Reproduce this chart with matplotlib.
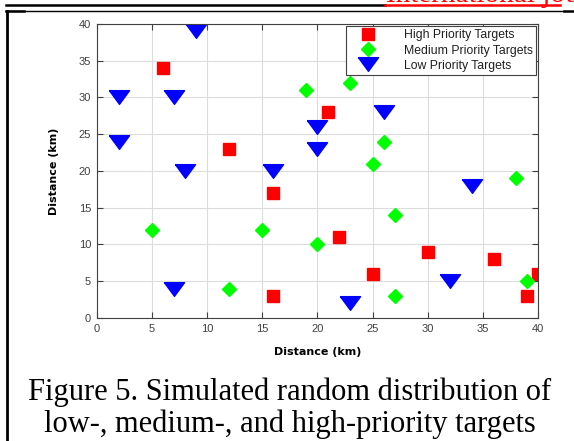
import matplotlib.pyplot as plt
from matplotlib.path import Path
from matplotlib.lines import Line2D

# target positions (km)
high_x = [6, 12, 16, 16, 21, 22, 25, 30, 36, 39, 40]
high_y = [34, 23, 17, 3, 28, 11, 6, 9, 8, 3, 6]

medium_x = [5, 12, 15, 19, 20, 23, 25, 26, 27, 27, 38, 39]
medium_y = [12, 4, 12, 31, 10, 32, 21, 24, 14, 3, 19, 5]

low_x = [2, 2, 7, 8, 9, 7, 16, 20, 20, 23, 26, 32, 34]
low_y = [30, 24, 30, 20, 39, 4, 20, 26, 23, 2, 28, 5, 18]

ticks = [0, 5, 10, 15, 20, 25, 30, 35, 40]

# flat, MATLAB-like downward triangle
tri = Path([(-1, 0.68), (1, 0.68), (0, -0.68), (-1, 0.68)])

fig = plt.figure(figsize=(5.74, 4.41), dpi=100)

# page decorations around the figure
fig.text(0.672, 0.9955, "International journal", color="red", fontsize=21,
         family="Liberation Serif", va="baseline", ha="left")
fig.add_artist(Line2D([0.010, 0.671], [0.988, 0.988], color="black", lw=1.8))
fig.add_artist(Line2D([0.671, 0.975], [0.988, 0.988], color="red", lw=1.8))
fig.add_artist(Line2D([0.010, 0.985], [0.976, 0.976], color="black", lw=1.0))
fig.add_artist(Line2D([0.983, 1.0], [0.975, 0.975], color="black", lw=1.8))
fig.add_artist(Line2D([0.010, 0.042], [0.975, 0.975], color="black", lw=1.8))
fig.add_artist(Line2D([0.013, 0.013], [0.976, 0.0], color="black", lw=2.0))

ax = fig.add_axes([0.1685, 0.279, 0.7688, 0.6667])

ax.plot(high_x, high_y, "s", color="red", markersize=8.5, linestyle="none",
        label="High Priority Targets")
ax.plot(medium_x, medium_y, "D", color="#00ff00", markersize=7.5, linestyle="none",
        label="Medium Priority Targets")
ax.plot(low_x, low_y, marker=tri, color="blue", markersize=14.5, linestyle="none",
        label="Low Priority Targets")

ax.set_xlim(0, 40)
ax.set_ylim(0, 40)
ax.set_xticks(ticks)
ax.set_yticks(ticks)
ax.grid(True, color="#dcdcdc", linewidth=0.8)
ax.set_axisbelow(True)
ax.tick_params(direction="in", top=True, right=True, length=4, width=0.8,
               colors="#404040", labelsize=8, pad=4)
for s in ax.spines.values():
    s.set_color("#404040")
    s.set_linewidth(0.8)
for lab in ax.get_xticklabels() + ax.get_yticklabels():
    lab.set_family("Liberation Sans")

ax.set_xlabel("Distance (km)", fontsize=8, fontweight="bold", labelpad=10)
ax.set_ylabel("Distance (km)", fontsize=8, fontweight="bold", labelpad=14)

leg = ax.legend(loc="upper right", fontsize=8.8, frameon=True, fancybox=False,
                edgecolor="#404040", framealpha=1, borderaxespad=0.15,
                handletextpad=1.4, labelspacing=0.25, borderpad=0.3,
                handlelength=3.0)
leg.get_frame().set_linewidth(0.8)
for t in leg.get_texts():
    t.set_family("Liberation Sans")
    t.set_color("#202020")

fig.text(0.505, 0.093, "Figure 5. Simulated random distribution of",
         fontsize=22, family="Liberation Serif", ha="center", va="baseline")
fig.text(0.505, 0.021, "low-, medium-, and high-priority targets",
         fontsize=22, family="Liberation Serif", ha="center", va="baseline")

fig.savefig("out.png", dpi=100)
